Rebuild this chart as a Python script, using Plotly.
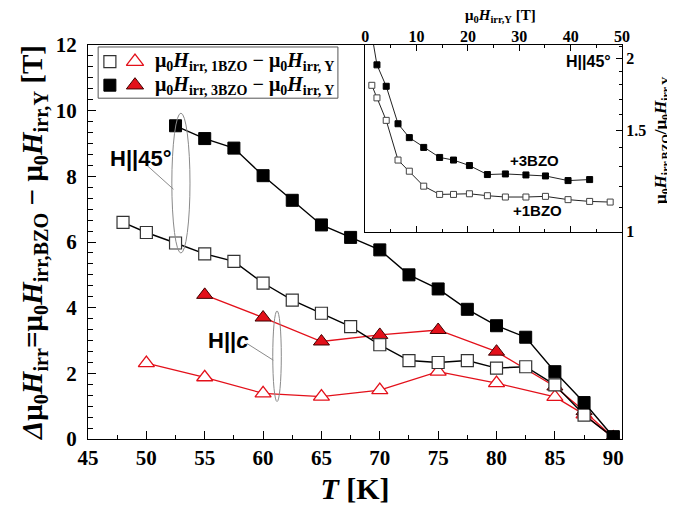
import numpy as np
import plotly.graph_objects as go

# ---------------- data (main panel) ----------------
T_45_1BZO = [48, 50, 52.5, 55, 57.5, 60, 62.5, 65, 67.5, 70, 72.5, 75, 77.5, 80, 82.5, 85, 87.5, 90]
dH_45_1BZO = [6.6, 6.29, 5.97, 5.64, 5.41, 4.75, 4.23, 3.83, 3.42, 2.87, 2.39, 2.33, 2.39, 2.16, 2.2, 1.65, 0.73, 0.05]

T_45_3BZO = [52.5, 55, 57.5, 60, 62.5, 65, 67.5, 70, 72.5, 75, 77.5, 80, 82.5, 85, 87.5, 90]
dH_45_3BZO = [9.54, 9.15, 8.86, 8.02, 7.27, 6.52, 6.14, 5.76, 5.0, 4.57, 3.95, 3.45, 3.1, 2.05, 1.11, 0.07]

T_c_1BZO = [50, 55, 60, 65, 70, 75, 80, 85, 87.5, 90]
dH_c_1BZO = [2.31, 1.88, 1.39, 1.29, 1.49, 2.05, 1.7, 1.28, 0.75, 0.04]

T_c_3BZO = [55, 60, 65, 70, 75, 80, 85, 87.5, 90]
dH_c_3BZO = [4.39, 3.7, 2.97, 3.17, 3.32, 2.66, 1.6, 0.85, 0.05]

# ---------------- data (inset) ----------------
HY_1BZO = [1.3, 2.3, 4.1, 6.4, 8.6, 11.4, 14.5, 17.2, 20.3, 23.8, 27.3, 31.3, 35.1, 39.5, 43.7, 47.7]
ratio_1BZO = [1.796, 1.708, 1.561, 1.332, 1.274, 1.200, 1.161, 1.161, 1.164, 1.155, 1.149, 1.149, 1.152, 1.137, 1.129, 1.126]

HY_3BZO = [1.3, 2.3, 4.1, 6.4, 8.6, 11.4, 14.5, 17.2, 20.3, 23.8, 27.3, 31.3, 35.1, 39.5, 43.7]
ratio_3BZO = [2.2, 1.949, 1.789, 1.540, 1.457, 1.401, 1.346, 1.332, 1.303, 1.257, 1.260, 1.255, 1.250, 1.227, 1.232]

x_ticks_main = [45, 50, 55, 60, 65, 70, 75, 80, 85, 90]
y_ticks_main = [0, 2, 4, 6, 8, 10, 12]
inset_x_ticks = [0, 10, 20, 30, 40, 50]
inset_y_ticks = [1, 1.5, 2]
inset_y_minor = [1.1, 1.2, 1.3, 1.4, 1.6, 1.7, 1.8, 1.9, 2.1]

# ---------------- styles ----------------
RED = "#e3101a"
SERIF = "Liberation Serif"
SANS = "Liberation Sans"

fig = go.Figure()

# main panel traces
fig.add_trace(go.Scatter(x=T_c_1BZO, y=dH_c_1BZO, mode="lines+markers",
                         line=dict(color=RED, width=1.3),
                         marker=dict(symbol="triangle-up", size=14, color="white",
                                     line=dict(color=RED, width=1.3)),
                         showlegend=False))
fig.add_trace(go.Scatter(x=T_c_3BZO, y=dH_c_3BZO, mode="lines+markers",
                         line=dict(color=RED, width=1.3),
                         marker=dict(symbol="triangle-up", size=14, color=RED,
                                     line=dict(color="#400000", width=1)),
                         showlegend=False))
fig.add_trace(go.Scatter(x=T_45_1BZO, y=dH_45_1BZO, mode="lines+markers",
                         line=dict(color="black", width=1.4),
                         marker=dict(symbol="square", size=12, color="white",
                                     line=dict(color="#333333", width=1.2)),
                         showlegend=False))
fig.add_trace(go.Scatter(x=T_45_3BZO, y=dH_45_3BZO, mode="lines+markers",
                         line=dict(color="black", width=1.4),
                         marker=dict(symbol="square", size=12, color="black",
                                     line=dict(color="black", width=1)),
                         showlegend=False))

# inset traces
fig.add_trace(go.Scatter(x=HY_1BZO, y=ratio_1BZO, xaxis="x2", yaxis="y2", mode="lines+markers",
                         line=dict(color="#222222", width=1),
                         marker=dict(symbol="square", size=6, color="white",
                                     line=dict(color="#444444", width=1)),
                         cliponaxis=True, showlegend=False))
fig.add_trace(go.Scatter(x=HY_3BZO, y=ratio_3BZO, xaxis="x2", yaxis="y2", mode="lines+markers",
                         line=dict(color="#222222", width=1),
                         marker=dict(symbol="square", size=6, color="black",
                                     line=dict(color="black", width=1)),
                         cliponaxis=True, showlegend=False))

# legend keys (hidden overlay axis, paper-like 0..1 coordinates)
leg_row1, leg_row2 = 0.958, 0.898
leg_sq_x, leg_tri_x = 0.041, 0.088
fig.add_trace(go.Scatter(x=[leg_sq_x], y=[leg_row1], xaxis="x3", yaxis="y3", mode="markers",
                         marker=dict(symbol="square", size=12, color="white",
                                     line=dict(color="#333333", width=1.2)), showlegend=False, hoverinfo="skip"))
fig.add_trace(go.Scatter(x=[leg_tri_x], y=[leg_row1], xaxis="x3", yaxis="y3", mode="markers",
                         marker=dict(symbol="triangle-up", size=15, color="white",
                                     line=dict(color=RED, width=1.3)), showlegend=False, hoverinfo="skip"))
fig.add_trace(go.Scatter(x=[leg_sq_x], y=[leg_row2], xaxis="x3", yaxis="y3", mode="markers",
                         marker=dict(symbol="square", size=12, color="black",
                                     line=dict(color="black", width=1)), showlegend=False, hoverinfo="skip"))
fig.add_trace(go.Scatter(x=[leg_tri_x], y=[leg_row2], xaxis="x3", yaxis="y3", mode="markers",
                         marker=dict(symbol="triangle-up", size=15, color=RED,
                                     line=dict(color="#400000", width=1)), showlegend=False, hoverinfo="skip"))

tickfont_main = dict(family=SERIF, size=21, color="black", weight="bold")
tickfont_inset = dict(family=SERIF, size=16, color="black", weight="bold")

# page body adds an 8px offset, so the figure is 8px smaller and margins shifted
fig.update_layout(
    width=667, height=503,
    margin=dict(l=80, r=53, t=37, b=72),
    paper_bgcolor="white", plot_bgcolor="rgba(0,0,0,0)",
    xaxis=dict(domain=[0, 1], range=[45, 90.75], tickmode="array", tickvals=x_ticks_main,
               ticks="inside", ticklen=8, tickwidth=1.2, tickcolor="black",
               minor=dict(dtick=2.5, tick0=45, ticks="inside", ticklen=4, tickwidth=1, tickcolor="black"),
               showline=True, linecolor="black", linewidth=1.3, mirror=True,
               showgrid=False, zeroline=False, tickfont=tickfont_main, automargin=False,
               title=dict(text="<i>T</i> [K]", font=dict(family=SERIF, size=30, color="black", weight="bold"),
                          standoff=8)),
    yaxis=dict(domain=[0, 1], range=[0, 12], tickmode="array", tickvals=y_ticks_main,
               ticks="inside", ticklen=8, tickwidth=1.2, tickcolor="black", ticklabelstandoff=6,
               minor=dict(dtick=1/3, tick0=0, ticks="inside", ticklen=5, tickwidth=1, tickcolor="black"),
               showline=True, linecolor="black", linewidth=1.3, mirror=True, automargin=False,
               showgrid=False, zeroline=False, tickfont=tickfont_main,
               title=dict(text="<i>Δ</i>μ<sub>0</sub><i>H</i><sub>irr</sub>=μ<sub>0</sub><i>H</i><sub>irr,BZO</sub> − μ<sub>0</sub><i>H</i><sub>irr,Y</sub> [T]",
                          font=dict(family=SERIF, size=29, color="black", weight="bold"), standoff=4)),
    xaxis2=dict(domain=[0.519, 1.0], anchor="y2", side="top", range=[0, 50],
                tickmode="array", tickvals=inset_x_ticks, ticklabelstandoff=-4,
                ticks="inside", ticklen=6, tickwidth=1, tickcolor="black",
                minor=dict(dtick=5, tick0=0, ticks="inside", ticklen=3, tickwidth=1, tickcolor="black"),
                showline=True, linecolor="black", linewidth=1, mirror="ticks", automargin=False,
                showgrid=False, zeroline=False, tickfont=tickfont_inset),
    yaxis2=dict(domain=[0.526, 1.0], anchor="x2", side="right", type="log",
                range=[0, float(np.log10(2.11))], tickmode="array", tickvals=inset_y_ticks,
                ticktext=["1", "1.5", "2"],
                ticks="inside", ticklen=6, tickwidth=1, tickcolor="black",
                minor=dict(tickmode="array", tickvals=inset_y_minor, ticks="inside", ticklen=3,
                           tickwidth=1, tickcolor="black"),
                showline=True, linecolor="black", linewidth=1, mirror=True, automargin=False,
                showgrid=False, zeroline=False, tickfont=tickfont_inset),
    xaxis3=dict(domain=[0, 1], range=[0, 1], anchor="y3", visible=False, fixedrange=True),
    yaxis3=dict(domain=[0, 1], range=[0, 1], anchor="x3", visible=False, fixedrange=True),
)

# inset white background + legend box
fig.add_shape(type="rect", xref="paper", yref="paper", x0=0.519, x1=1.0, y0=0.526, y1=1.0,
              fillcolor="white", line=dict(width=0), layer="below")
fig.add_shape(type="rect", xref="paper", yref="paper", x0=0.019, x1=0.468, y0=0.865, y1=0.995,
              fillcolor="white", line=dict(color="#555555", width=1), layer="below")

# grouping ellipses and pointer lines
GRAY = "#8a8a8a"
fig.add_shape(type="circle", xref="paper", yref="paper", x0=0.157, x1=0.191, y0=0.472, y1=0.827,
              line=dict(color=GRAY, width=1))
fig.add_shape(type="line", xref="paper", yref="paper", x0=0.110, y0=0.695, x1=0.160, y1=0.634,
              line=dict(color=GRAY, width=1))
fig.add_shape(type="circle", xref="paper", yref="paper", x0=0.346, x1=0.362, y0=0.095, y1=0.325,
              line=dict(color=GRAY, width=1))
fig.add_shape(type="line", xref="paper", yref="paper", x0=0.297, y0=0.243, x1=0.347, y1=0.200,
              line=dict(color=GRAY, width=1))

ann_sans = lambda s: dict(family=SANS, size=s, color="black", weight="bold")
ann_serif = lambda s: dict(family=SERIF, size=s, color="black", weight="bold")

annotations = [
    dict(x=0.099, y=0.711, text="H||45°", font=ann_sans(22)),
    dict(x=0.262, y=0.251, text="H||<i>c</i>", font=ann_sans(22)),
    dict(x=0.938, y=0.957, text="H||45°", font=ann_sans(16)),
    dict(x=0.837, y=0.708, text="+3BZO", font=ann_sans(15)),
    dict(x=0.841, y=0.579, text="+1BZO", font=ann_sans(15)),
    dict(x=0.773, y=1.074, text="μ<sub>0</sub><i>H</i><sub>irr,Y</sub> [T]", font=ann_serif(15)),
    dict(x=1.075, y=0.759, text="μ<sub>0</sub><i>H</i><sub>irr,BZO</sub>/μ<sub>0</sub><i>H</i><sub>irr,Y</sub>",
         font=ann_serif(17), textangle=-90),
    dict(x=0.122, y=leg_row1, xanchor="left",
         text="μ<sub>0</sub><i>H</i><sub>irr, 1BZO</sub> − μ<sub>0</sub><i>H</i><sub>irr, Y</sub>", font=ann_serif(20)),
    dict(x=0.122, y=leg_row2, xanchor="left",
         text="μ<sub>0</sub><i>H</i><sub>irr, 3BZO</sub> − μ<sub>0</sub><i>H</i><sub>irr, Y</sub>", font=ann_serif(20)),
]
for a in annotations:
    a.setdefault("xanchor", "center")
    fig.add_annotation(xref="paper", yref="paper", showarrow=False, yanchor="middle", **a)

fig.write_html("out.html")
